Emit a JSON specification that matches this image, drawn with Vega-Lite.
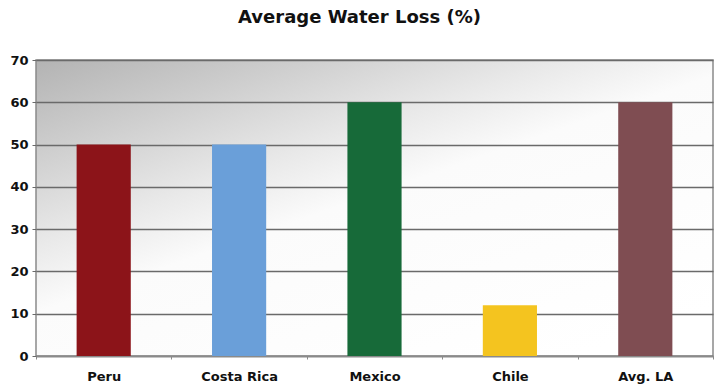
{
  "$schema": "https://vega.github.io/schema/vega-lite/v6.json",
  "width": 677,
  "height": 296,
  "autosize": {"type": "none"},
  "padding": {"left": 36, "top": 60, "right": 7, "bottom": 36},
  "background": "white",
  "title": {
    "text": "Average Water Loss (%)",
    "font": "DejaVu Sans",
    "fontSize": 18,
    "fontWeight": "bold",
    "color": "#111111",
    "anchor": "middle",
    "dx": -15,
    "offset": 27
  },
  "config": {
    "view": {
      "stroke": "#8a8a8a",
      "strokeWidth": 1.5,
      "fill": {
        "gradient": "linear",
        "x1": 0, "y1": 0, "x2": 0.8, "y2": 1,
        "stops": [
          {"offset": 0, "color": "#b3b3b3"},
          {"offset": 0.2, "color": "#cfcfcf"},
          {"offset": 0.38, "color": "#e9e9e9"},
          {"offset": 0.52, "color": "#fbfbfb"},
          {"offset": 1, "color": "#ffffff"}
        ]
      }
    },
    "axis": {
      "labelFont": "DejaVu Sans",
      "labelFontWeight": "bold",
      "labelFontSize": 13,
      "labelColor": "#111111",
      "title": null
    }
  },
  "data": {
    "values": [
      {"country": "Peru", "loss": 50},
      {"country": "Costa Rica", "loss": 50},
      {"country": "Mexico", "loss": 60},
      {"country": "Chile", "loss": 12},
      {"country": "Avg. LA", "loss": 60}
    ]
  },
  "mark": {"type": "bar", "width": {"band": 0.4}},
  "encoding": {
    "x": {
      "field": "country",
      "type": "nominal",
      "sort": null,
      "scale": {"paddingInner": 0, "paddingOuter": 0},
      "axis": {
        "labelAngle": 0,
        "domain": true,
        "domainColor": "#8a8a8a",
        "domainWidth": 1.5,
        "ticks": true,
        "tickBand": "extent",
        "tickColor": "#8a8a8a",
        "tickSize": 3,
        "labelPadding": 11
      }
    },
    "y": {
      "field": "loss",
      "type": "quantitative",
      "scale": {"domain": [0, 70], "nice": false},
      "axis": {
        "values": [0, 10, 20, 30, 40, 50, 60, 70],
        "grid": true,
        "gridColor": "#6a6a6a",
        "gridWidth": 1.5,
        "domain": false,
        "ticks": true,
        "tickColor": "#6a6a6a",
        "tickSize": 4,
        "labelPadding": 4
      }
    },
    "color": {
      "field": "country",
      "type": "nominal",
      "sort": null,
      "scale": {
        "domain": ["Peru", "Costa Rica", "Mexico", "Chile", "Avg. LA"],
        "range": ["#8c1419", "#6a9fd9", "#176a39", "#f4c41f", "#7f4d52"]
      },
      "legend": null
    }
  }
}
